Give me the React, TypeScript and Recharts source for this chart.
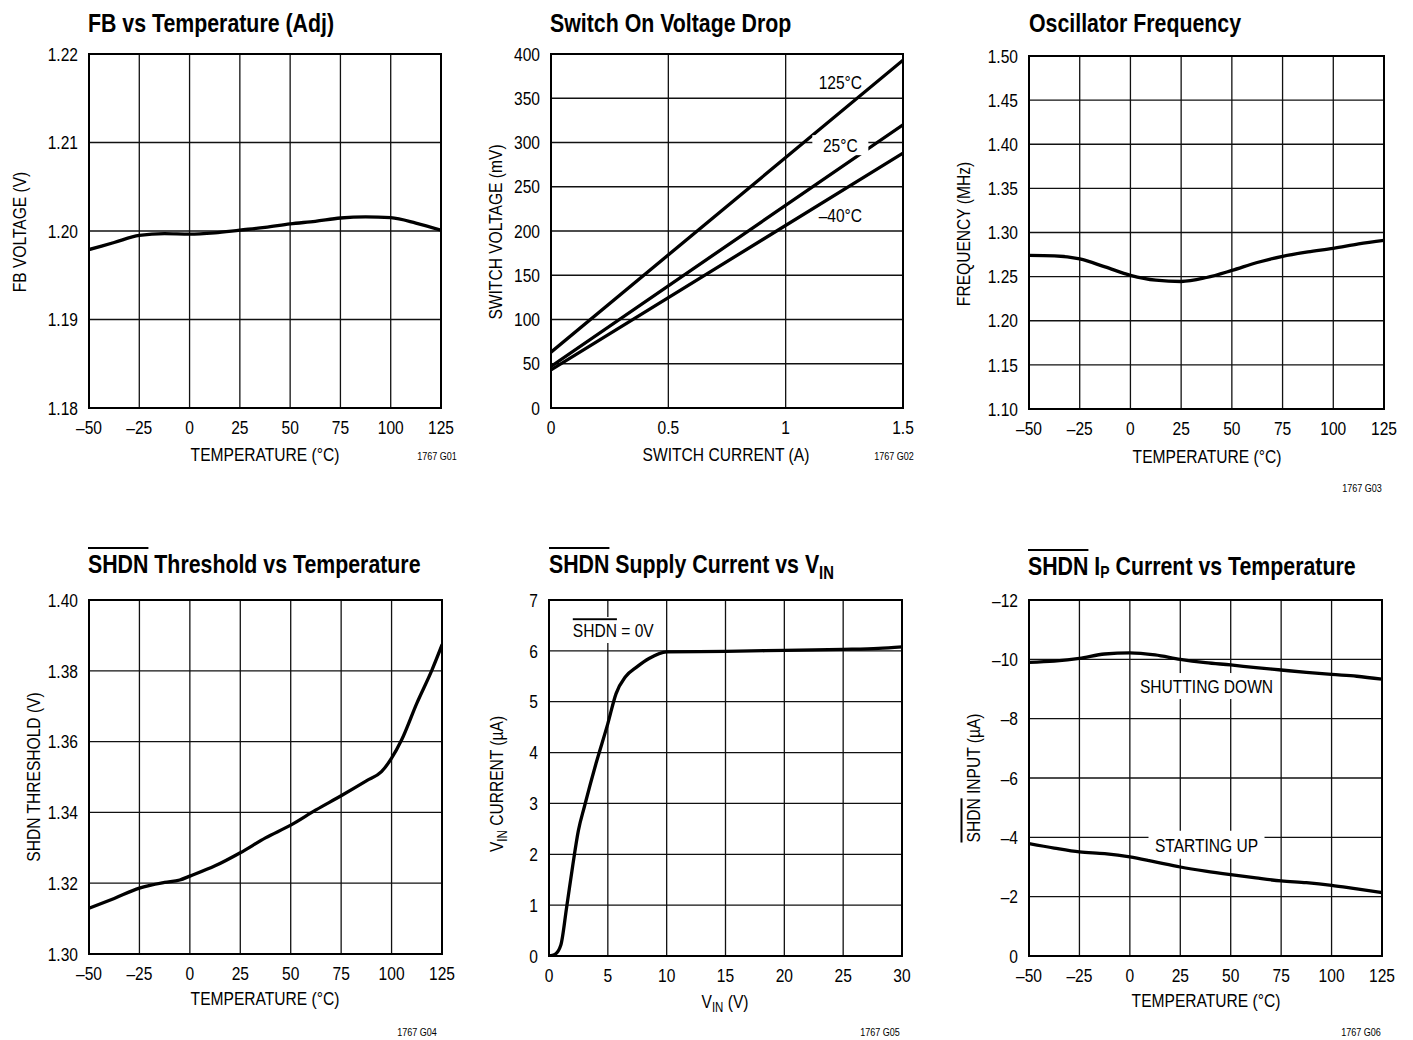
import React from 'react';
import { ComposedChart, Line, XAxis, YAxis, CartesianGrid, ReferenceArea, ReferenceDot } from 'recharts';

const FONT = "'Liberation Sans', Arial, Helvetica, sans-serif";
const SX = 0.82; // horizontal compression to emulate a condensed face
const FS = 19;
const LFS = 19;

// ---------- data ----------
const TEMP_TICKS = [-50, -25, 0, 25, 50, 75, 100, 125];
const TEMP_X = [-50, -37.5, -25, -12.5, 0, 12.5, 25, 37.5, 50, 62.5, 75, 87.5, 100, 112.5, 125];

// G01 FB vs Temperature
const FB_VOLTAGE = [1.1979, 1.1987, 1.1995, 1.1997, 1.19965, 1.1998, 1.2001, 1.2004, 1.2008, 1.2011, 1.20147, 1.2016, 1.2015, 1.2009, 1.2001];
const FB_TICKS = [1.18, 1.19, 1.2, 1.21, 1.22];

// G02 Switch on voltage drop
const SW_CURRENT = [0, 1.5];
const SW_V_125C = [63, 393];
const SW_V_25C = [47, 320];
const SW_V_M40C = [43, 288];
const SW_X_TICKS = [0, 0.5, 1, 1.5];
const SW_Y_TICKS = [0, 50, 100, 150, 200, 250, 300, 350, 400];

// G03 Oscillator frequency
const OSC_FREQ = [1.274, 1.2735, 1.27, 1.261, 1.2515, 1.246, 1.2445, 1.249, 1.257, 1.266, 1.273, 1.278, 1.282, 1.287, 1.291];
const OSC_TICKS = [1.1, 1.15, 1.2, 1.25, 1.3, 1.35, 1.4, 1.45, 1.5];

// G04 SHDN threshold
const THR_TEMP = [-50, -37.5, -25, -12.5, -5, 0, 12.5, 25, 37.5, 50, 62.5, 75, 87.5, 95, 100, 105, 112.5, 120, 125];
const THR_V = [1.3129, 1.3157, 1.3186, 1.3202, 1.3209, 1.322, 1.3249, 1.3286, 1.3328, 1.3364, 1.3407, 1.3447, 1.3489, 1.3515, 1.3553, 1.3605, 1.3708, 1.3802, 1.3873];
const THR_TICKS = [1.3, 1.32, 1.34, 1.36, 1.38, 1.4];

// G05 SHDN supply current vs VIN
const VIN = [0, 0.5, 1, 1.5, 2, 2.5, 3, 4, 5, 5.7, 6.5, 7.5, 8.5, 10, 15, 20, 25, 28, 30];
const VIN_CURRENT = [0, 0.03, 0.21, 0.96, 1.75, 2.47, 2.93, 3.79, 4.57, 5.16, 5.49, 5.69, 5.85, 5.98, 5.99, 6.01, 6.03, 6.05, 6.08];
const VIN_TICKS = [0, 5, 10, 15, 20, 25, 30];
const VIN_I_TICKS = [0, 1, 2, 3, 4, 5, 6, 7];

// G06 SHDN IP current
const IP_SHUTTING_DOWN = [-9.9, -9.94, -10.03, -10.18, -10.22, -10.15, -10.0, -9.89, -9.81, -9.72, -9.64, -9.56, -9.49, -9.43, -9.33];
const IP_STARTING_UP = [-3.79, -3.64, -3.51, -3.45, -3.34, -3.17, -3.0, -2.86, -2.74, -2.63, -2.53, -2.47, -2.38, -2.26, -2.14];
const IP_TICKS = [-12, -10, -8, -6, -4, -2, 0];

// ---------- helpers ----------
const zip = (xs: number[], ys: number[]) => xs.map((x, i) => ({ x, y: ys[i] }));
const dash = (v: number) => (v < 0 ? '\u2013' + Math.abs(v) : String(v));
const fix2 = (v: number) => v.toFixed(2);
const plain = (v: number) => String(v);

type Plot = { x: number; y: number; w: number; h: number };
type Series = { data: { x: number; y: number }[]; type?: 'monotone' | 'linear' };

const ML = 80;
const MT = 12;
const MR = 20;
const XH = 40;

function makeTick(fmt: (v: number) => string, axis: 'x' | 'y') {
  return (p: any) => {
    const { x, y, payload } = p;
    return (
      <text
        transform={`translate(${x},${y}) scale(${SX},1)`}
        x={0}
        y={0}
        dy={axis === 'x' ? '0.71em' : '0.355em'}
        textAnchor={axis === 'x' ? 'middle' : 'end'}
        fontSize={FS}
        fontFamily={FONT}
        fill="#000"
      >
        {fmt(payload.value)}
      </text>
    );
  };
}

function makeLabel(text: React.ReactNode, bgW = 0, bgH = 0) {
  return (p: any) => (
    <g>
      {bgW > 0 && <rect x={p.cx - bgW / 2} y={p.cy - bgH / 2} width={bgW} height={bgH} fill="#fff" />}
      <text
        transform={`translate(${p.cx},${p.cy}) scale(${SX},1)`}
        x={0}
        y={0}
        dy="0.36em"
        textAnchor="middle"
        fontSize={FS}
        fontFamily={FONT}
        fill="#000"
      >
        {text}
      </text>
    </g>
  );
}

type Annot = { x: number; y: number; shape: (p: any) => React.ReactElement };

function Panel(props: {
  plot: Plot;
  xDomain: [number, number];
  yDomain: [number, number];
  xTicks: number[];
  yTicks: number[];
  xFmt: (v: number) => string;
  yFmt: (v: number) => string;
  series: Series[];
  reversed?: boolean;
  annots?: Annot[];
}) {
  const { plot, xDomain, yDomain, xTicks, yTicks, xFmt, yFmt, series, reversed, annots = [] } = props;
  const width = plot.w + ML + MR;
  const height = plot.h + MT + XH;
  return (
    <div style={{ position: 'absolute', left: plot.x - ML, top: plot.y - MT }}>
      <ComposedChart width={width} height={height} margin={{ top: MT, right: MR, bottom: 0, left: 0 }}>
        <CartesianGrid stroke="#111" strokeWidth={1.3} />
        <XAxis
          type="number"
          dataKey="x"
          domain={xDomain}
          ticks={xTicks}
          interval={0}
          allowDataOverflow
          axisLine={false}
          tickLine={false}
          tickSize={0}
          tickMargin={13}
          height={XH}
          tick={makeTick(xFmt, 'x')}
        />
        <YAxis
          type="number"
          domain={yDomain}
          ticks={yTicks}
          interval={0}
          allowDataOverflow
          reversed={reversed}
          axisLine={false}
          tickLine={false}
          tickSize={0}
          tickMargin={11}
          width={ML}
          tick={makeTick(yFmt, 'y')}
        />
        <ReferenceArea
          x1={xDomain[0]}
          x2={xDomain[1]}
          y1={yDomain[0]}
          y2={yDomain[1]}
          fill="#fff"
          fillOpacity={0}
          stroke="#000"
          strokeWidth={2}
          ifOverflow="visible"
        />
        {series.map((s, i) => (
          <Line
            key={i}
            data={s.data}
            dataKey="y"
            type={s.type || 'monotone'}
            dot={false}
            activeDot={false}
            stroke="#000"
            strokeWidth={3.3}
            strokeLinecap="round"
            isAnimationActive={false}
          />
        ))}
        {annots.map((a, i) => (
          <ReferenceDot key={'a' + i} x={a.x} y={a.y} r={1} shape={a.shape} ifOverflow="visible" />
        ))}
      </ComposedChart>
    </div>
  );
}

const Title = ({ left, baseline, children }: { left: number; baseline: number; children: React.ReactNode }) => (
  <div
    style={{
      position: 'absolute',
      left,
      top: baseline - 22,
      fontSize: 26,
      lineHeight: '26px',
      fontWeight: 700,
      whiteSpace: 'nowrap',
      color: '#000',
      transform: `scaleX(${SX})`,
      transformOrigin: '0 0',
    }}
  >
    {children}
  </div>
);

const CText = ({
  x,
  y,
  size = LFS,
  rotate = false,
  children,
}: {
  x: number;
  y: number;
  size?: number;
  rotate?: boolean;
  children: React.ReactNode;
}) => (
  <div
    style={{
      position: 'absolute',
      left: x,
      top: y,
      transform: `translate(-50%,-50%)${rotate ? ' rotate(-90deg)' : ''} scaleX(${SX})`,
      fontSize: size,
      lineHeight: `${size}px`,
      whiteSpace: 'nowrap',
      color: '#000',
    }}
  >
    {children}
  </div>
);

const Over = ({ children, t = 1.5 }: { children: React.ReactNode; t?: number }) => (
  <span style={{ textDecoration: 'overline', textDecorationThickness: `${t}px` }}>{children}</span>
);

const Sub = ({ children, size, shift }: { children: React.ReactNode; size: number; shift: number }) => (
  <span style={{ fontSize: size, position: 'relative', top: shift }}>{children}</span>
);

export default function App() {
  return (
    <div
      style={{
        position: 'absolute',
        left: 0,
        top: 0,
        width: 1413,
        height: 1040,
        background: '#fff',
        fontFamily: FONT,
        overflow: 'hidden',
      }}
    >
      {/* ---------------- G01 ---------------- */}
      <Title left={88} baseline={32}>FB vs Temperature (Adj)</Title>
      <Panel
        plot={{ x: 89, y: 54, w: 352, h: 354 }}
        xDomain={[-50, 125]}
        yDomain={[1.18, 1.22]}
        xTicks={TEMP_TICKS}
        yTicks={FB_TICKS}
        xFmt={dash}
        yFmt={fix2}
        series={[{ data: zip(TEMP_X, FB_VOLTAGE) }]}
      />
      <CText x={19} y={232} rotate>FB VOLTAGE (V)</CText>
      <CText x={265} y={454}>TEMPERATURE (°C)</CText>
      <CText x={437} y={456} size={11}>1767 G01</CText>

      {/* ---------------- G02 ---------------- */}
      <Title left={550} baseline={32}>Switch On Voltage Drop</Title>
      <Panel
        plot={{ x: 551, y: 54, w: 352, h: 354 }}
        xDomain={[0, 1.5]}
        yDomain={[0, 400]}
        xTicks={SW_X_TICKS}
        yTicks={SW_Y_TICKS}
        xFmt={plain}
        yFmt={plain}
        series={[
          { data: zip(SW_CURRENT, SW_V_125C), type: 'linear' },
          { data: zip(SW_CURRENT, SW_V_25C), type: 'linear' },
          { data: zip(SW_CURRENT, SW_V_M40C), type: 'linear' },
        ]}
        annots={[
          { x: 1.233, y: 368, shape: makeLabel('125°C') },
          { x: 1.233, y: 297, shape: makeLabel('25°C', 56, 20) },
          { x: 1.233, y: 218, shape: makeLabel('\u201340°C') },
        ]}
      />
      <CText x={495} y={232} rotate>SWITCH VOLTAGE (mV)</CText>
      <CText x={726} y={454}>SWITCH CURRENT (A)</CText>
      <CText x={894} y={456} size={11}>1767 G02</CText>

      {/* ---------------- G03 ---------------- */}
      <Title left={1029} baseline={32}>Oscillator Frequency</Title>
      <Panel
        plot={{ x: 1029, y: 56, w: 355, h: 353 }}
        xDomain={[-50, 125]}
        yDomain={[1.1, 1.5]}
        xTicks={TEMP_TICKS}
        yTicks={OSC_TICKS}
        xFmt={dash}
        yFmt={fix2}
        series={[{ data: zip(TEMP_X, OSC_FREQ) }]}
      />
      <CText x={963} y={234} rotate>FREQUENCY (MHz)</CText>
      <CText x={1207} y={456}>TEMPERATURE (°C)</CText>
      <CText x={1362} y={488} size={11}>1767 G03</CText>

      {/* ---------------- G04 ---------------- */}
      <Title left={88} baseline={573}>
        <Over t={2}>SHDN</Over> Threshold vs Temperature
      </Title>
      <Panel
        plot={{ x: 89, y: 600, w: 353, h: 354 }}
        xDomain={[-50, 125]}
        yDomain={[1.3, 1.4]}
        xTicks={TEMP_TICKS}
        yTicks={THR_TICKS}
        xFmt={dash}
        yFmt={fix2}
        series={[{ data: zip(THR_TEMP, THR_V) }]}
      />
      <CText x={33} y={777} rotate>SHDN THRESHOLD (V)</CText>
      <CText x={265} y={998}>TEMPERATURE (°C)</CText>
      <CText x={417} y={1032} size={11}>1767 G04</CText>

      {/* ---------------- G05 ---------------- */}
      <Title left={549} baseline={573}>
        <Over t={2}>SHDN</Over> Supply Current vs V<Sub size={18} shift={6}>IN</Sub>
      </Title>
      <Panel
        plot={{ x: 549, y: 600, w: 353, h: 356 }}
        xDomain={[0, 30]}
        yDomain={[0, 7]}
        xTicks={VIN_TICKS}
        yTicks={VIN_I_TICKS}
        xFmt={plain}
        yFmt={plain}
        series={[{ data: zip(VIN, VIN_CURRENT) }]}
        annots={[
          {
            x: 5.46,
            y: 6.41,
            shape: makeLabel(
              <>
                <tspan style={{ textDecoration: 'overline' }}>SHDN</tspan> = 0V
              </>,
              88,
              26
            ),
          },
        ]}
      />
      <CText x={497} y={784} rotate>
        V<Sub size={14} shift={4}>IN</Sub> CURRENT (µA)
      </CText>
      <CText x={725} y={1002}>
        V<Sub size={14} shift={4}>IN</Sub> (V)
      </CText>
      <CText x={880} y={1032} size={11}>1767 G05</CText>

      {/* ---------------- G06 ---------------- */}
      <Title left={1028} baseline={575}>
        <Over t={2}>SHDN</Over> I<Sub size={17} shift={3}>P</Sub> Current vs Temperature
      </Title>
      <Panel
        plot={{ x: 1029, y: 600, w: 353, h: 356 }}
        xDomain={[-50, 125]}
        yDomain={[-12, 0]}
        reversed
        xTicks={TEMP_TICKS}
        yTicks={IP_TICKS}
        xFmt={dash}
        yFmt={dash}
        series={[{ data: zip(TEMP_X, IP_SHUTTING_DOWN) }, { data: zip(TEMP_X, IP_STARTING_UP) }]}
        annots={[
          { x: 38, y: -9.1, shape: makeLabel('SHUTTING DOWN', 142, 26) },
          { x: 38, y: -3.75, shape: makeLabel('STARTING UP', 116, 28) },
        ]}
      />
      <CText x={973} y={778} rotate>
        <Over>SHDN</Over> INPUT (µA)
      </CText>
      <CText x={1206} y={1000}>TEMPERATURE (°C)</CText>
      <CText x={1361} y={1032} size={11}>1767 G06</CText>
    </div>
  );
}
